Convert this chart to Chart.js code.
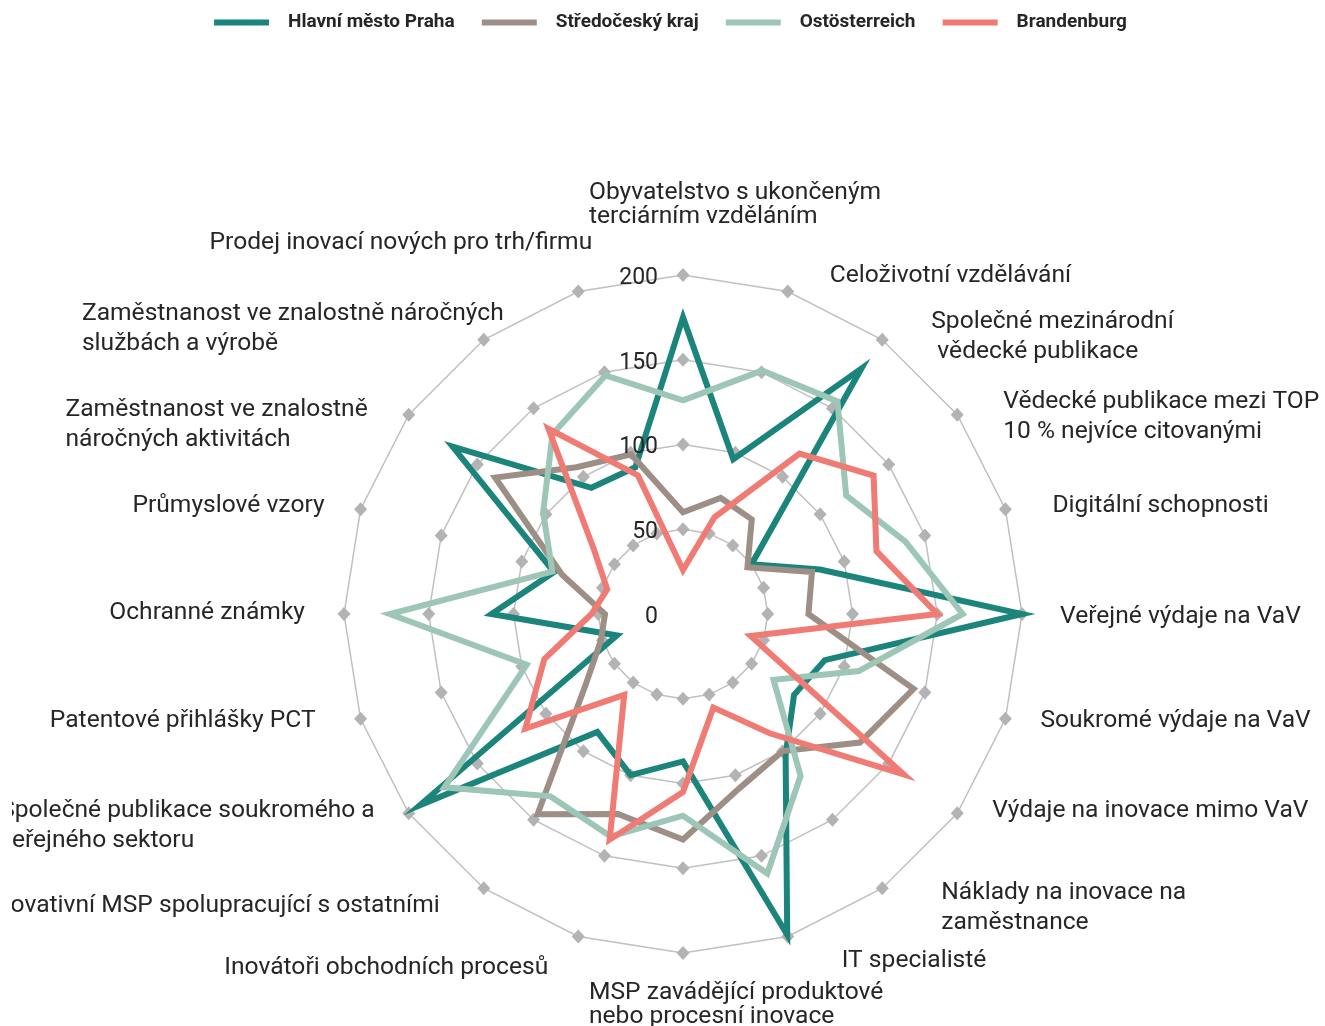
<!DOCTYPE html>
<html lang="cs">
<head>
<meta charset="utf-8">
<title>Radarový graf</title>
<script src="https://cdn.jsdelivr.net/npm/chart.js@4.4.1/dist/chart.umd.min.js"></script>
<style>
    html, body { margin: 0; padding: 0; background: #fff; }
    #wrap { position: relative; width: 1325px; height: 1026px; }
</style>
</head>
<body>
<div id="wrap"><canvas id="myRadarChart"></canvas></div>
<script>
// osy grafu (popisky, víceřádkové jako pole)
const categories = [
    ['Obyvatelstvo s ukončeným', 'terciárním vzděláním'],
    ['Celoživotní vzdělávání'],
    ['Společné mezinárodní', ' vědecké publikace'],
    ['Vědecké publikace mezi TOP', '10 % nejvíce citovanými'],
    ['Digitální schopnosti'],
    ['Veřejné výdaje na VaV'],
    ['Soukromé výdaje na VaV'],
    ['Výdaje na inovace mimo VaV'],
    ['Náklady na inovace na', 'zaměstnance'],
    ['IT specialisté'],
    ['MSP zavádějící produktové', 'nebo procesní inovace'],
    ['Inovátoři obchodních procesů'],
    ['Inovativní MSP spolupracující s ostatními'],
    ['Společné publikace soukromého a', 'veřejného sektoru'],
    ['Patentové přihlášky PCT'],
    ['Ochranné známky'],
    ['Průmyslové vzory'],
    ['Zaměstnanost ve znalostně', 'náročných aktivitách'],
    ['Zaměstnanost ve znalostně náročných', 'službách a výrobě'],
    ['Prodej inovací nových pro trh/firmu']
];

// hodnoty regionů
const praha = [175, 96, 179, 50, 85, 200, 88, 81, 103, 199, 87, 100, 86, 192, 41, 113, 80, 168, 92, 91];
const stredocesky = [60, 72, 69, 47, 80, 74, 143, 129, 100, 108, 133, 124, 146, 71, 51, 46, 75, 137, 107, 99];
const ostosterreich = [126, 151, 155, 119, 138, 165, 109, 66, 118, 161, 119, 138, 133, 174, 97, 173, 81, 102, 131, 148];
const brandenburg = [26, 60, 117, 139, 120, 150, 42, 161, 87, 58, 105, 140, 59, 115, 86, 54, 47, 65, 135, 86];

// popisky osy hodnot
const tickValues = [0, 50, 100, 150, 200];

// posun popisku vůči konci osy [dx, dy] v px
const labelOffsets = [
    [-94, -73], [42, -19], [49, -6], [46, -1], [47, -6],
    [38, 0], [35, -1], [35, -5], [59, 17], [54, 21],
    [-94, 49], [-30, 28], [-44, 15], [-34, 10], [-45, -1],
    [-39, -4], [-36, -6], [-41, 7], [20, -14], [14, -52]
];

// rozložení grafu
const CENTER_X = 683;
const CENTER_Y = 614;
const RADIUS = 339;
const TEXT_DROP = 3;   // korekce svislé polohy textu
const LABEL_CLIP_X = 12;
const TEXT_COLOR = '#262626';
const LABEL_FONT = '24.6px Roboto, "Noto Sans", sans-serif';
const TICK_FONT = '23px Roboto, "Noto Sans", sans-serif';

// kosočtverce na mřížce, popisky hodnot a popisky os
const radarDecor = {
    id: 'radarDecor',
    beforeDatasetsDraw: function(chart) {
        const scale = chart.scales.r;
        const ctx = chart.ctx;
        ctx.save();
        ctx.fillStyle = '#b3b3b3';
        scale.ticks.forEach(function(t) {
            if (t.value === 0) return;
            const dist = scale.getDistanceFromCenterForValue(t.value);
            for (let i = 0; i < categories.length; i++) {
                const p = scale.getPointPosition(i, dist);
                ctx.beginPath();
                ctx.moveTo(p.x, p.y - 7);
                ctx.lineTo(p.x + 6.5, p.y);
                ctx.lineTo(p.x, p.y + 7);
                ctx.lineTo(p.x - 6.5, p.y);
                ctx.closePath();
                ctx.fill();
            }
        });
        ctx.restore();
    },
    afterDatasetsDraw: function(chart) {
        const scale = chart.scales.r;
        const ctx = chart.ctx;
        ctx.save();
        ctx.font = TICK_FONT;
        ctx.fillStyle = TEXT_COLOR;
        ctx.textAlign = 'right';
        ctx.textBaseline = 'middle';
        scale.ticks.forEach(function(t) {
            const dist = scale.getDistanceFromCenterForValue(t.value);
            ctx.fillText(String(t.value), scale.xCenter - 25, scale.yCenter - dist + TEXT_DROP);
        });
        ctx.restore();
    },
    afterDraw: function(chart) {
        const scale = chart.scales.r;
        const ctx = chart.ctx;
        ctx.save();
        ctx.beginPath();
        ctx.rect(LABEL_CLIP_X, 0, chart.width - LABEL_CLIP_X, chart.height);
        ctx.clip();
        ctx.font = LABEL_FONT;
        ctx.fillStyle = TEXT_COLOR;
        ctx.textAlign = 'left';
        ctx.textBaseline = 'middle';
        categories.forEach(function(lines, i) {
            const tip = scale.getPointPosition(i, scale.drawingArea);
            const s = Math.sin(scale.getIndexAngle(i));
            const off = labelOffsets[i];
            const maxW = Math.max.apply(null, lines.map(function(l) { return ctx.measureText(l).width; }));
            const left = s < -0.1 ? tip.x + off[0] - maxW : tip.x + off[0];
            const lh = Math.abs(s) < 0.1 ? 24 : 30;
            const midY = tip.y + off[1] + TEXT_DROP;
            lines.forEach(function(line, k) {
                ctx.fillText(line, left, midY + (k - (lines.length - 1) / 2) * lh);
            });
        });
        ctx.restore();
    }
};

function makeSet(label, values, color, order) {
    return {
        label: label,
        data: values,
        borderColor: color,
        backgroundColor: color,
        borderWidth: 6,
        pointRadius: 0,
        pointHoverRadius: 0,
        fill: false,
        tension: 0,
        clip: false,
        order: order
    };
}

const ctx = document.getElementById('myRadarChart').getContext('2d');
new Chart(ctx, {
    type: 'radar',
    data: {
        labels: categories,
        datasets: [
            makeSet('Hlavní město Praha', praha, '#1b857c', 4),
            makeSet('Středočeský kraj', stredocesky, '#9d8f86', 3),
            makeSet('Ostösterreich', ostosterreich, '#9dc6b6', 2),
            makeSet('Brandenburg', brandenburg, '#ef7b74', 1)
        ]
    },
    options: {
        responsive: true,
        maintainAspectRatio: false,
        devicePixelRatio: 1,
        animation: false,
        layout: { padding: { left: 30 } },
        plugins: {
            tooltip: { enabled: false },
            legend: {
                position: 'top',
                align: 'center',
                labels: {
                    boxWidth: 55,
                    boxHeight: 6,
                    padding: 13,
                    color: TEXT_COLOR,
                    font: { family: 'Roboto', weight: 'bold', size: 19 },
                    generateLabels: function(chart) {
                        const items = Chart.defaults.plugins.legend.labels.generateLabels(chart);
                        items.sort(function(a, b) { return a.datasetIndex - b.datasetIndex; });
                        items.forEach(function(it) {
                            it.lineWidth = 0;
                            it.text = '  ' + it.text + '   ';
                        });
                        return items;
                    }
                }
            }
        },
        scales: {
            r: {
                min: 0,
                max: 200,
                afterBuildTicks: function(scale) {
                    scale.ticks = tickValues.map(function(v) { return { value: v }; });
                },
                afterFit: function(scale) {
                    scale.xCenter = CENTER_X;
                    scale.yCenter = CENTER_Y;
                    scale.drawingArea = RADIUS;
                },
                ticks: { display: false },
                angleLines: { display: false },
                pointLabels: { display: false },
                grid: { circular: false, color: '#c0c0c0', lineWidth: 1.5 }
            }
        }
    },
    plugins: [radarDecor]
});
</script>
</body>
</html>
